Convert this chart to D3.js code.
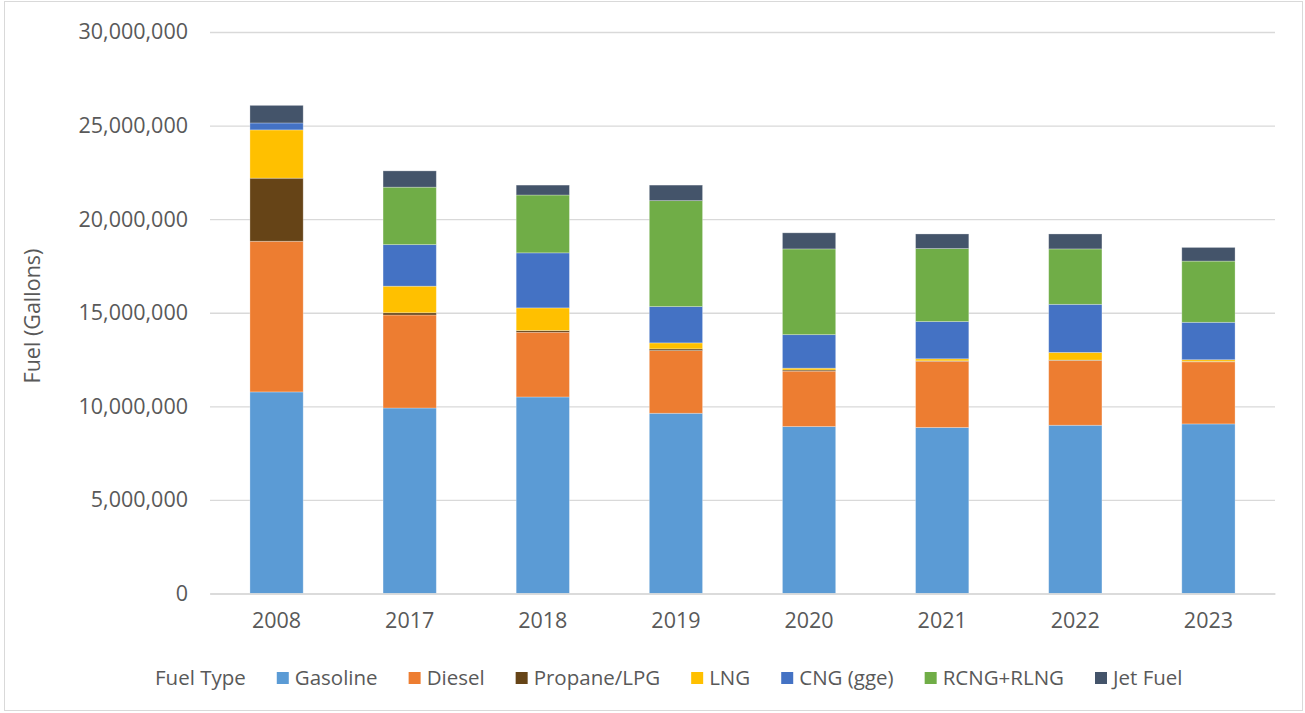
<!DOCTYPE html>
<html>
<head>
<meta charset="utf-8">
<script src="https://cdn.jsdelivr.net/npm/d3@7"></script>
<style>
  body { margin: 0; background: #fff; }
  text { font-family: "Open Sans", sans-serif; fill: #595959; }
</style>
</head>
<body>
<div id="wrapper"></div>
<script>
// data (gallons)
const years = ["2008", "2017", "2018", "2019", "2020", "2021", "2022", "2023"];
const gasoline = [10770000, 9910000, 10500000, 9630000, 8920000, 8870000, 8990000, 9060000];
const diesel = [8050000, 4970000, 3460000, 3350000, 2960000, 3540000, 3460000, 3320000];
const propane = [3370000, 120000, 90000, 90000, 60000, 20000, 20000, 20000];
const lng = [2580000, 1420000, 1210000, 320000, 100000, 110000, 410000, 90000];
const cng = [370000, 2220000, 2940000, 1940000, 1790000, 1990000, 2570000, 2000000];
const rcng = [0, 3070000, 3090000, 5660000, 4580000, 3900000, 2960000, 3270000];
const jetFuel = [940000, 870000, 530000, 830000, 860000, 780000, 800000, 730000];
const yTicks = [0, 5000000, 10000000, 15000000, 20000000, 25000000, 30000000];

const seriesNames = ["Gasoline", "Diesel", "Propane/LPG", "LNG", "CNG (gge)", "RCNG+RLNG", "Jet Fuel"];
const seriesValues = [gasoline, diesel, propane, lng, cng, rcng, jetFuel];
const colors = ["#5B9BD5", "#ED7D31", "#664417", "#FFC000", "#4472C4", "#70AD47", "#44546A"];

function drawChart() {
  const width = 1305;
  const height = 713;
  const margin = { top: 32, right: 30, bottom: 120, left: 210 };

  const svg = d3.select("#wrapper")
    .append("svg")
    .attr("width", width)
    .attr("height", height);

  // outer frame
  svg.append("rect")
    .attr("x", 4.5).attr("y", 1.5)
    .attr("width", width - 7).attr("height", height - 4)
    .attr("fill", "none")
    .attr("stroke", "#d9d9d9");

  const table = years.map((y, i) => {
    const row = { year: y };
    seriesNames.forEach((s, j) => { row[s] = seriesValues[j][i]; });
    return row;
  });
  const stacked = d3.stack().keys(seriesNames)(table);

  const xScale = d3.scaleBand()
    .domain(years)
    .range([margin.left, width - margin.right])
    .paddingInner(0.6)
    .paddingOuter(0.3);

  const yScale = d3.scaleLinear()
    .domain([0, 30000000])
    .range([593.5, margin.top]);

  // gridlines
  const yAxis = svg.append("g")
    .attr("transform", `translate(${margin.left},0)`)
    .call(d3.axisLeft(yScale)
      .tickValues(yTicks)
      .tickSize(-(width - margin.right - margin.left))
      .tickPadding(22)
      .tickFormat(d3.format(",")));
  yAxis.select(".domain").remove();
  yAxis.selectAll("line").attr("stroke", "#d9d9d9").attr("stroke-width", 1.3);
  yAxis.selectAll("text")
    .style("font-size", "21.5px")
    .style("font-family", "Open Sans")
    .attr("fill", "#595959");

  // bars
  svg.append("g")
    .selectAll("g")
    .data(stacked)
    .join("g")
    .attr("fill", (d, i) => colors[i])
    .selectAll("rect")
    .data(d => d.filter(p => p[1] - p[0] > 0))
    .join("rect")
    .attr("x", d => xScale(d.data.year))
    .attr("width", xScale.bandwidth())
    .attr("y", d => yScale(d[1]))
    .attr("height", d => yScale(d[0]) - yScale(d[1]))
    .attr("stroke", "#ffffff")
    .attr("stroke-opacity", 0.35)
    .attr("stroke-width", 0.8);

  // x axis labels
  const xAxis = svg.append("g")
    .attr("transform", "translate(0,593.5)")
    .call(d3.axisBottom(xScale).tickSize(0).tickPadding(19));
  xAxis.select(".domain")
    .attr("stroke", "#d9d9d9").attr("stroke-width", 1.3);
  xAxis.selectAll("text")
    .style("font-size", "21.5px")
    .style("font-family", "Open Sans")
    .attr("fill", "#595959");

  // y axis title
  svg.append("text")
    .attr("transform", "translate(40,316) rotate(-90)")
    .style("text-anchor", "middle")
    .style("font-size", "21.5px")
    .text("Fuel (Gallons)");

  // legend
  const legend = svg.append("g").attr("transform", "translate(0,685)");
  let x = 155;
  const title = legend.append("text")
    .attr("x", x).attr("y", 0)
    .style("font-size", "20.5px")
    .text("Fuel Type");
  x += title.node().getComputedTextLength() + 31;
  seriesNames.forEach((name, i) => {
    legend.append("rect")
      .attr("x", x).attr("y", -13)
      .attr("width", 12).attr("height", 12)
      .attr("fill", colors[i]);
    const t = legend.append("text")
      .attr("x", x + 18).attr("y", 0)
      .style("font-size", "20.5px")
      .text(name);
    x += 18 + t.node().getComputedTextLength() + 31;
  });
}

drawChart();
</script>
</body>
</html>
